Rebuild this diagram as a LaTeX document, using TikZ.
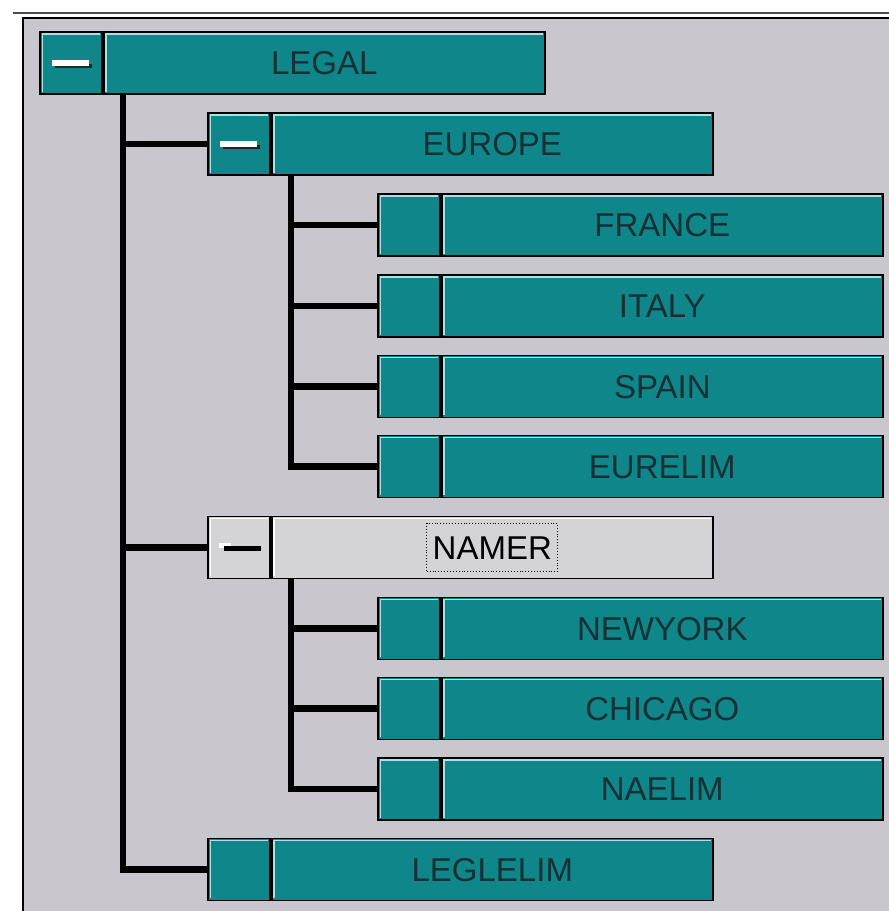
\documentclass[tikz,border=0pt]{standalone}
\usepackage{fontspec}
\setsansfont{Liberation Sans}
\usetikzlibrary{positioning}

\definecolor{panelgray}{RGB}{201,199,205}
\definecolor{itemteal}{RGB}{14,134,138}
\definecolor{itemhl}{RGB}{170,225,228}
\definecolor{namergray}{RGB}{212,211,214}
\definecolor{textdark}{RGB}{22,48,52}

\tikzset{
  hl/.style={path picture={\draw[line width=1.4pt, #1]
      ([shift={(2.2pt,2.2pt)}]path picture bounding box.south west) |-
      ([shift={(-2.2pt,-2.2pt)}]path picture bounding box.north east);}},
  itembtn/.style={draw=black, line width=1.8pt, fill=itemteal, minimum width=62pt,
      minimum height=62pt, inner sep=0pt, hl=itemhl},
  graybtn/.style={itembtn, fill=namergray, hl=white},
  itemlbl/.style={itembtn, minimum width=441pt, font=\sffamily\fontsize{33}{33}\selectfont,
      text=textdark, text height=24pt, text depth=0pt},
  graylbl/.style={itemlbl, fill=namergray, hl=white},
  focusbox/.style={draw=black, dotted, line width=0.9pt, font=\sffamily\fontsize{33}{33}\selectfont,
      text=black, text height=24pt, text depth=0pt, inner xsep=6pt, inner ysep=12pt},
  wire/.style={line width=6.5pt, black},
  dashwhite/.style={line width=5.5pt, white},
  dashdark/.style={line width=3.5pt, black!85}
}

\begin{document}
\begin{tikzpicture}[x=1pt, y=1pt]
    \useasboundingbox (0,0) rectangle (889,911);
    \fill[white] (0,0) rectangle (889,911);

    % Panel
    \fill[panelgray] (23,0) rectangle (889,893);
    \draw[line width=1.5pt, black!70] (13,898) -- (889,898);
    \draw[line width=2pt, black] (23,0) -- (23,893) -- (889,893);

    % Top level
    \node[itembtn] (legalbtn) at (71,848) {};
    \node[itemlbl, right=0pt of legalbtn] (legal) {LEGAL};

    % Europe branch
    \node[itembtn] (europebtn) at (239,767) {};
    \node[itemlbl, right=0pt of europebtn] (europe) {EUROPE};
    \node[itembtn] (francebtn) at (409,686) {};
    \node[itemlbl, right=0pt of francebtn] (france) {FRANCE};
    \node[itembtn] (italybtn) at (409,605) {};
    \node[itemlbl, right=0pt of italybtn] (italy) {ITALY};
    \node[itembtn] (spainbtn) at (409,524.5) {};
    \node[itemlbl, right=0pt of spainbtn] (spain) {SPAIN};
    \node[itembtn] (eurelimbtn) at (409,444.5) {};
    \node[itemlbl, right=0pt of eurelimbtn] (eurelim) {EURELIM};

    % North America branch (selected)
    \node[graybtn] (namerbtn) at (239,363.5) {};
    \node[graylbl, right=0pt of namerbtn] (namer) {};
    \node[focusbox] (namertxt) at (namer) {NAMER};
    \node[itembtn] (newyorkbtn) at (409,282.5) {};
    \node[itemlbl, right=0pt of newyorkbtn] (newyork) {NEWYORK};
    \node[itembtn] (chicagobtn) at (409,202.5) {};
    \node[itemlbl, right=0pt of chicagobtn] (chicago) {CHICAGO};
    \node[itembtn] (naelimbtn) at (409,122) {};
    \node[itemlbl, right=0pt of naelimbtn] (naelim) {NAELIM};

    % Last leaf
    \node[itembtn] (leglelimbtn) at (239,41.5) {};
    \node[itemlbl, right=0pt of leglelimbtn] (leglelim) {LEGLELIM};

    % Connectors
    \draw[wire] ([xshift=20pt]legal.south west) |- (europebtn.west);
    \draw[wire] ([xshift=20pt]legal.south west) |- (namerbtn.west);
    \draw[wire] ([xshift=20pt]legal.south west) |- (leglelimbtn.west);
    \foreach \leaf in {francebtn, italybtn, spainbtn, eurelimbtn}
        \draw[wire] ([xshift=20pt]europe.south west) |- (\leaf.west);
    \foreach \leaf in {newyorkbtn, chicagobtn, naelimbtn}
        \draw[wire] ([xshift=20pt]namer.south west) |- (\leaf.west);

    % Minus signs
    \foreach \b in {legalbtn, europebtn} {
        \draw[dashdark] ([shift={(-16pt,-3pt)}]\b.center) -- ([shift={(21pt,-3pt)}]\b.center);
        \draw[dashwhite] ([xshift=-19pt]\b.center) -- ([xshift=18pt]\b.center);
    }
    \draw[dashwhite] ([shift={(-20pt,2pt)}]namerbtn.center) -- ([shift={(-8pt,2pt)}]namerbtn.center);
    \draw[dashwhite, black] ([shift={(-15pt,-1pt)}]namerbtn.center) -- ([shift={(22pt,-1pt)}]namerbtn.center);
\end{tikzpicture}
\end{document}
